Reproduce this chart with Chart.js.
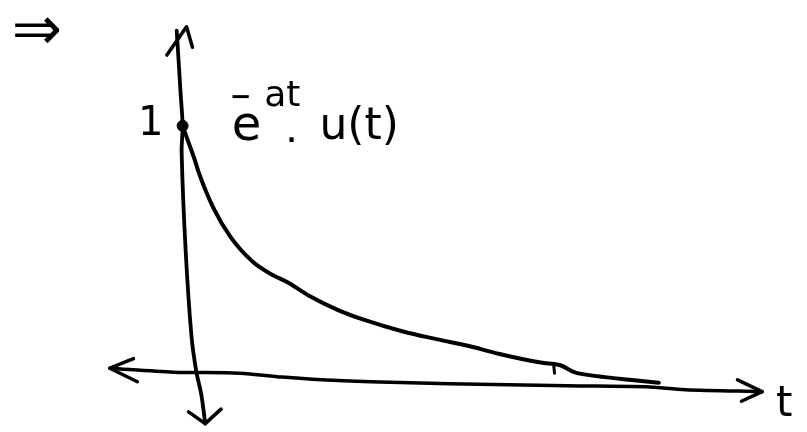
<!DOCTYPE html>
<html>
<head>
<meta charset="utf-8">
<script src="https://cdn.jsdelivr.net/npm/chart.js@4.4.0/dist/chart.umd.min.js"></script>
<style>
html,body{margin:0;padding:0;background:#fff;}
#wrap{width:807px;height:432px;position:relative;}
</style>
</head>
<body>
<div id="wrap"><canvas id="c"></canvas></div>
<script>
// Sketch of x(t) = e^{-at} u(t); t in sketch units, amplitude normalised so x(0)=1
const curveT = [-0.14,-0.08,-0.01,0.02,0.17,0.35,0.57,0.74,0.94,1.14,1.44,1.70,2.10,2.44,2.77,3.07,3.50,3.70,3.84,4.07,4.40,4.70];
const curveY = [1.000,0.933,0.854,0.815,0.669,0.547,0.449,0.402,0.362,0.311,0.252,0.213,0.165,0.134,0.106,0.075,0.039,0.028,0.000,-0.016,-0.031,-0.043];

// hand-drawn horizontal (t) axis
const hAxisT = [-0.88,-0.23,0.44,0.87,1.27,1.77,2.57,3.77,4.57,4.97,5.75];
const hAxisY = [0.016,0.000,-0.004,-0.020,-0.031,-0.039,-0.047,-0.055,-0.059,-0.071,-0.079];
const leftHeadT = [-0.64,-0.88,-0.60];
const leftHeadY = [0.055,0.016,-0.039];
const rightHeadT = [5.50,5.75,5.54];
const rightHeadY = [-0.031,-0.079,-0.118];

// hand-drawn vertical axis
const vAxisT = [-0.20,-0.16,-0.14,-0.15,-0.11,-0.05,0.00,0.05,0.09];
const vAxisY = [1.386,1.130,1.000,0.894,0.500,0.146,0.000,-0.091,-0.209];
const topHeadT = [-0.30,-0.10,-0.04];
const topHeadY = [1.287,1.402,1.319];
const bottomHeadT = [-0.08,0.09,0.25];
const bottomHeadY = [-0.161,-0.209,-0.150];

// small stray tick on the curve
const tickT = [3.63,3.64];
const tickY = [0.035,-0.004];

// marked point x(0) = 1
const dotT = [-0.14];
const dotY = [1.0];

const xRange = [-1.93, 6.14];
const yRange = [-0.2165, 1.4843];

function pts(xs, ys){ return xs.map((x,i)=>({x:x, y:ys[i]})); }

function lineSet(xs, ys, w, tension){
  return {
    data: pts(xs, ys), showLine: true, pointRadius: 0, borderColor: '#000',
    borderWidth: w, tension: tension, clip: false,
    borderCapStyle: 'round', borderJoinStyle: 'round', fill: false
  };
}

const labels = [
  {text:'\u21D2', t:-1.62, y:1.374, font:'60px "DejaVu Sans"', align:'center', base:'middle'},
  {text:'1', t:-0.465, y:0.962, font:'40px "DejaVu Sans"', align:'center', base:'alphabetic'},
  {text:'e', t:0.36, y:0.941, font:'48px "DejaVu Sans"', align:'left', base:'alphabetic'},
  {text:'\u2212', t:0.45, y:1.112, font:'bold 26px "DejaVu Sans"', align:'center', base:'middle'},
  {text:'at', t:0.69, y:1.079, font:'36px "DejaVu Sans"', align:'left', base:'alphabetic'},
  {text:'.', t:0.92, y:0.933, font:'bold 24px "DejaVu Sans"', align:'left', base:'alphabetic'},
  {text:'u(t)', t:1.25, y:0.945, font:'44px "DejaVu Sans"', align:'left', base:'alphabetic'},
  {text:'t', t:5.89, y:-0.177, font:'42px "DejaVu Sans"', align:'left', base:'alphabetic'}
];

const textPlugin = {
  id: 'sketchText',
  afterDatasetsDraw(chart){
    const ctx = chart.ctx, xs = chart.scales.x, ys = chart.scales.y;
    ctx.save();
    ctx.fillStyle = '#000';
    labels.forEach(l=>{
      ctx.font = l.font;
      ctx.textAlign = l.align;
      ctx.textBaseline = l.base;
      ctx.fillText(l.text, xs.getPixelForValue(l.t), ys.getPixelForValue(l.y));
    });
    ctx.restore();
  }
};

new Chart(document.getElementById('c'), {
  type: 'scatter',
  data: {
    datasets: [
      lineSet(hAxisT, hAxisY, 3.5, 0.3),
      lineSet(leftHeadT, leftHeadY, 3.5, 0),
      lineSet(rightHeadT, rightHeadY, 3.5, 0),
      lineSet(vAxisT, vAxisY, 3.8, 0.3),
      lineSet(topHeadT, topHeadY, 3.5, 0),
      lineSet(bottomHeadT, bottomHeadY, 3.5, 0),
      Object.assign(lineSet(curveT, curveY, 4, 0.4), {cubicInterpolationMode:'monotone'}),
      lineSet(tickT, tickY, 3, 0),
      {data: pts(dotT, dotY), showLine:false, pointRadius:5.5, pointBackgroundColor:'#000', pointBorderColor:'#000', clip:false}
    ]
  },
  options: {
    responsive: true,
    maintainAspectRatio: false,
    animation: false,
    layout: {padding: 0},
    plugins: {legend:{display:false}, tooltip:{enabled:false}},
    scales: {
      x: {type:'linear', min:xRange[0], max:xRange[1], display:false},
      y: {type:'linear', min:yRange[0], max:yRange[1], display:false}
    }
  },
  plugins: [textPlugin]
});
</script>
</body>
</html>
